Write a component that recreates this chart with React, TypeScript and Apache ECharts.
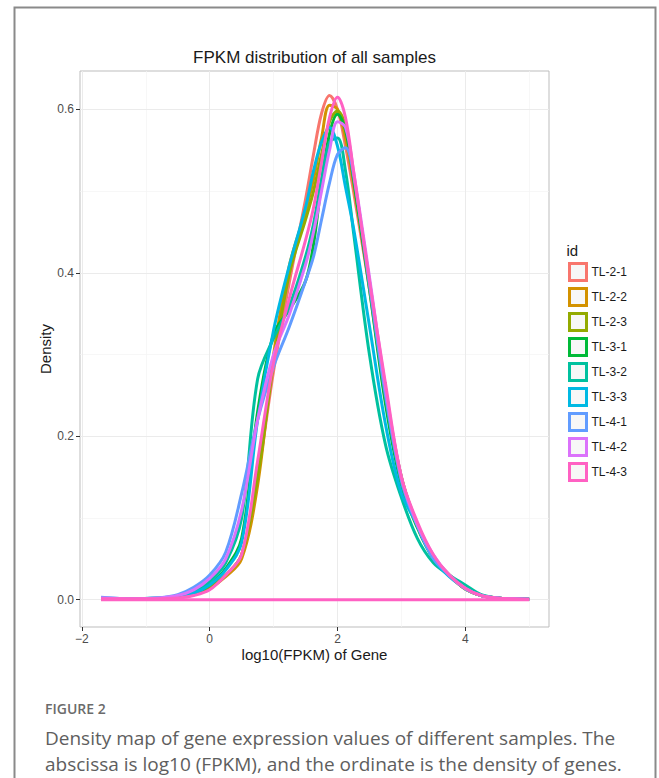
import React, { useEffect, useRef } from "react";
import * as echarts from "echarts";

// x positions (log10 FPKM) at which each density was read
const xGrid = [-1.7, -1.2, -0.8, -0.5, -0.25, 0, 0.25, 0.5, 0.75, 1.0, 1.25, 1.5, 1.625, 1.75, 1.875, 2.0, 2.125, 2.25, 2.5, 2.75, 3.0, 3.25, 3.5, 3.75, 4.0, 4.25, 4.5, 4.75, 5.0];

const sampleNames = ["TL-2-1", "TL-2-2", "TL-2-3", "TL-3-1", "TL-3-2", "TL-3-3", "TL-4-1", "TL-4-2", "TL-4-3"];
const sampleColors = ["#F8766D", "#D39200", "#93AA00", "#00BA38", "#00C19F", "#00B9E3", "#619CFF", "#DB72FB", "#FF61C3"];

const tl21 = [0.001, 0.001, 0.001, 0.003, 0.007, 0.016, 0.03, 0.055, 0.15, 0.28, 0.39, 0.49, 0.545, 0.595, 0.617, 0.6, 0.555, 0.5, 0.38, 0.245, 0.145, 0.09, 0.052, 0.03, 0.013, 0.005, 0.002, 0.001, 0.0005];
const tl22 = [0.001, 0.001, 0.001, 0.003, 0.006, 0.014, 0.028, 0.05, 0.14, 0.3, 0.41, 0.475, 0.515, 0.565, 0.605, 0.6, 0.565, 0.51, 0.385, 0.25, 0.15, 0.092, 0.053, 0.03, 0.013, 0.005, 0.002, 0.001, 0.0005];
const tl23 = [0.001, 0.001, 0.001, 0.003, 0.006, 0.015, 0.03, 0.055, 0.15, 0.29, 0.4, 0.465, 0.5, 0.545, 0.585, 0.598, 0.58, 0.52, 0.39, 0.255, 0.15, 0.09, 0.052, 0.03, 0.013, 0.005, 0.002, 0.001, 0.0005];
const tl31 = [0.001, 0.001, 0.001, 0.003, 0.007, 0.018, 0.038, 0.075, 0.23, 0.325, 0.355, 0.39, 0.435, 0.51, 0.57, 0.594, 0.575, 0.515, 0.38, 0.24, 0.14, 0.088, 0.05, 0.03, 0.014, 0.005, 0.002, 0.001, 0.0005];
const tl32 = [0.001, 0.001, 0.002, 0.004, 0.009, 0.022, 0.045, 0.1, 0.27, 0.32, 0.36, 0.42, 0.46, 0.515, 0.56, 0.565, 0.525, 0.45, 0.3, 0.19, 0.125, 0.075, 0.045, 0.03, 0.018, 0.006, 0.002, 0.001, 0.0005];
const tl33 = [0.002, 0.001, 0.002, 0.004, 0.008, 0.018, 0.036, 0.07, 0.22, 0.33, 0.41, 0.48, 0.525, 0.56, 0.578, 0.555, 0.505, 0.455, 0.335, 0.215, 0.13, 0.092, 0.05, 0.028, 0.014, 0.005, 0.002, 0.001, 0.0005];
const tl41 = [0.003, 0.001, 0.002, 0.006, 0.015, 0.03, 0.058, 0.13, 0.22, 0.285, 0.335, 0.39, 0.42, 0.465, 0.51, 0.545, 0.553, 0.52, 0.385, 0.25, 0.145, 0.09, 0.05, 0.03, 0.013, 0.005, 0.002, 0.001, 0.0005];
const tl42 = [0.002, 0.001, 0.002, 0.005, 0.012, 0.026, 0.05, 0.11, 0.22, 0.3, 0.35, 0.41, 0.45, 0.5, 0.55, 0.585, 0.578, 0.525, 0.395, 0.26, 0.15, 0.092, 0.055, 0.03, 0.014, 0.005, 0.002, 0.001, 0.0005];
const tl43 = [0.001, 0.001, 0.001, 0.002, 0.005, 0.012, 0.03, 0.055, 0.17, 0.29, 0.37, 0.44, 0.48, 0.535, 0.59, 0.615, 0.59, 0.525, 0.39, 0.265, 0.15, 0.095, 0.055, 0.03, 0.014, 0.005, 0.002, 0.001, 0.0005];

const sampleValues = [tl21, tl22, tl23, tl31, tl32, tl33, tl41, tl42, tl43];

const xTicks = [-2, 0, 2, 4];
const xMinorTicks = [-1, 1, 3, 5];
const yTicks = [0, 0.2, 0.4, 0.6];
const yMinorTicks = [0.1, 0.3, 0.5];

const chartTitle = "FPKM distribution of all samples";
const xTitle = "log10(FPKM) of Gene";
const yTitle = "Density";
const legendTitle = "id";
const figureLabel = "FIGURE 2";
const captionLines = [
  "Density map of gene expression values of different samples. The",
  "abscissa is log10 (FPKM), and the ordinate is the density of genes.",
];

const FONT = "'Liberation Sans', Arial, Helvetica, sans-serif";
const CAP_FONT = "'Open Sans', 'Noto Sans', sans-serif";

export default function App() {
  const ref = useRef<HTMLDivElement>(null);

  useEffect(() => {
    if (!ref.current) return;
    const chart = echarts.init(ref.current, undefined, { renderer: "svg" });

    const minus = (v: number) => (v < 0 ? "\u2212" + Math.abs(v) : String(v));

    const minorStyle = { color: "#f3f3f3", width: 0.7, type: "solid" };
    const majorStyle = { color: "#ebebeb", width: 1, type: "solid" };
    const gridLineData = [
      ...xMinorTicks.map((v) => ({ xAxis: v, lineStyle: minorStyle })),
      ...yMinorTicks.map((v) => ({ yAxis: v, lineStyle: minorStyle })),
      ...xTicks.map((v) => ({ xAxis: v, lineStyle: majorStyle })),
      ...yTicks.map((v) => ({ yAxis: v, lineStyle: majorStyle })),
    ];

    const densitySeries = sampleNames.map((name, i) => ({
      name,
      type: "line",
      data: xGrid.map((x, j) => [x, sampleValues[i][j]]),
      showSymbol: false,
      smooth: 0.35,
      z: 3,
      lineStyle: { color: sampleColors[i], width: 3 },
      itemStyle: { color: sampleColors[i] },
    }));

    const option: any = {
      animation: false,
      backgroundColor: "#ffffff",
      grid: {
        left: 80,
        top: 71,
        width: 469,
        height: 556,
        show: true,
        borderColor: "#bdbdbd",
        borderWidth: 1,
        backgroundColor: "#ffffff",
      },
      xAxis: {
        type: "value",
        min: -2.03,
        max: 5.31,
        splitLine: { show: false },
        axisLine: { show: false, onZero: false },
        axisTick: { show: true, customValues: xTicks, length: 4, lineStyle: { color: "#333333", width: 1 } },
        axisLabel: {
          customValues: xTicks,
          formatter: (v: number) => minus(v),
          color: "#4d4d4d",
          fontSize: 12,
          margin: 6,
          fontFamily: FONT,
        },
      },
      yAxis: {
        type: "value",
        min: -0.0335,
        max: 0.647,
        splitLine: { show: false },
        axisLine: { show: false, onZero: false },
        axisTick: { show: true, customValues: yTicks, length: 4, lineStyle: { color: "#333333", width: 1 } },
        axisLabel: {
          customValues: yTicks,
          formatter: (v: number) => v.toFixed(1),
          color: "#4d4d4d",
          fontSize: 12,
          margin: 6,
          fontFamily: FONT,
        },
      },
      legend: {
        orient: "vertical",
        left: 568,
        top: 262,
        itemWidth: 17,
        itemHeight: 17,
        itemGap: 5,
        icon: "rect",
        selectedMode: false,
        padding: 0,
        data: sampleNames.map((n, i) => ({
          name: n,
          itemStyle: { color: "#f7f7f7", borderColor: sampleColors[i], borderWidth: 3 },
        })),
        textStyle: { fontSize: 12, color: "#1a1a1a", fontFamily: FONT },
      },
      series: [
        {
          name: "__grid",
          type: "line",
          data: [[0, 0]],
          showSymbol: false,
          lineStyle: { width: 0, opacity: 0 },
          z: 1,
          silent: true,
          markLine: {
            z: 1,
            silent: true,
            symbol: "none",
            label: { show: false },
            animation: false,
            data: gridLineData,
          },
        },
        ...densitySeries,
        {
          name: "__baseline",
          type: "line",
          data: [[xGrid[0], 0], [xGrid[xGrid.length - 1], 0]],
          showSymbol: false,
          z: 4,
          lineStyle: { color: sampleColors[sampleColors.length - 1], width: 3 },
        },
      ],
      graphic: [
        {
          type: "polyline",
          shape: { points: [[14.5, 790], [14.5, 7.5], [655.5, 7.5], [655.5, 790]] },
          style: { stroke: "#8a8a8a", lineWidth: 2, fill: null },
          silent: true,
        },
        {
          type: "text",
          x: 314.5,
          y: 57,
          style: { text: chartTitle, textAlign: "center", textVerticalAlign: "middle", fontSize: 17, fill: "#1a1a1a", fontFamily: FONT },
        },
        {
          type: "text",
          x: 314.5,
          y: 654,
          style: { text: xTitle, textAlign: "center", textVerticalAlign: "middle", fontSize: 15, fill: "#1a1a1a", fontFamily: FONT },
        },
        {
          type: "text",
          x: 45,
          y: 349,
          rotation: Math.PI / 2,
          style: { text: yTitle, textAlign: "center", textVerticalAlign: "middle", fontSize: 15, fill: "#1a1a1a", fontFamily: FONT },
        },
        {
          type: "text",
          x: 566.5,
          y: 250,
          style: { text: legendTitle, textAlign: "left", textVerticalAlign: "middle", fontSize: 15, fill: "#1a1a1a", fontFamily: FONT },
        },
        {
          type: "text",
          x: 45,
          y: 708,
          style: { text: figureLabel, textAlign: "left", textVerticalAlign: "middle", fontSize: 14, fontWeight: 600, fill: "#6b6b6b", fontFamily: CAP_FONT },
        },
        ...captionLines.map((t, i) => ({
          type: "text",
          x: 45,
          y: 738 + i * 26,
          style: { text: t, textAlign: "left", textVerticalAlign: "middle", fontSize: 19, fill: "#5e5e5e", fontFamily: CAP_FONT },
        })),
      ],
    };

    chart.setOption(option);
    return () => chart.dispose();
  }, []);

  return <div ref={ref} style={{ position: "absolute", left: 0, top: 0, width: 659, height: 778 }} />;
}
